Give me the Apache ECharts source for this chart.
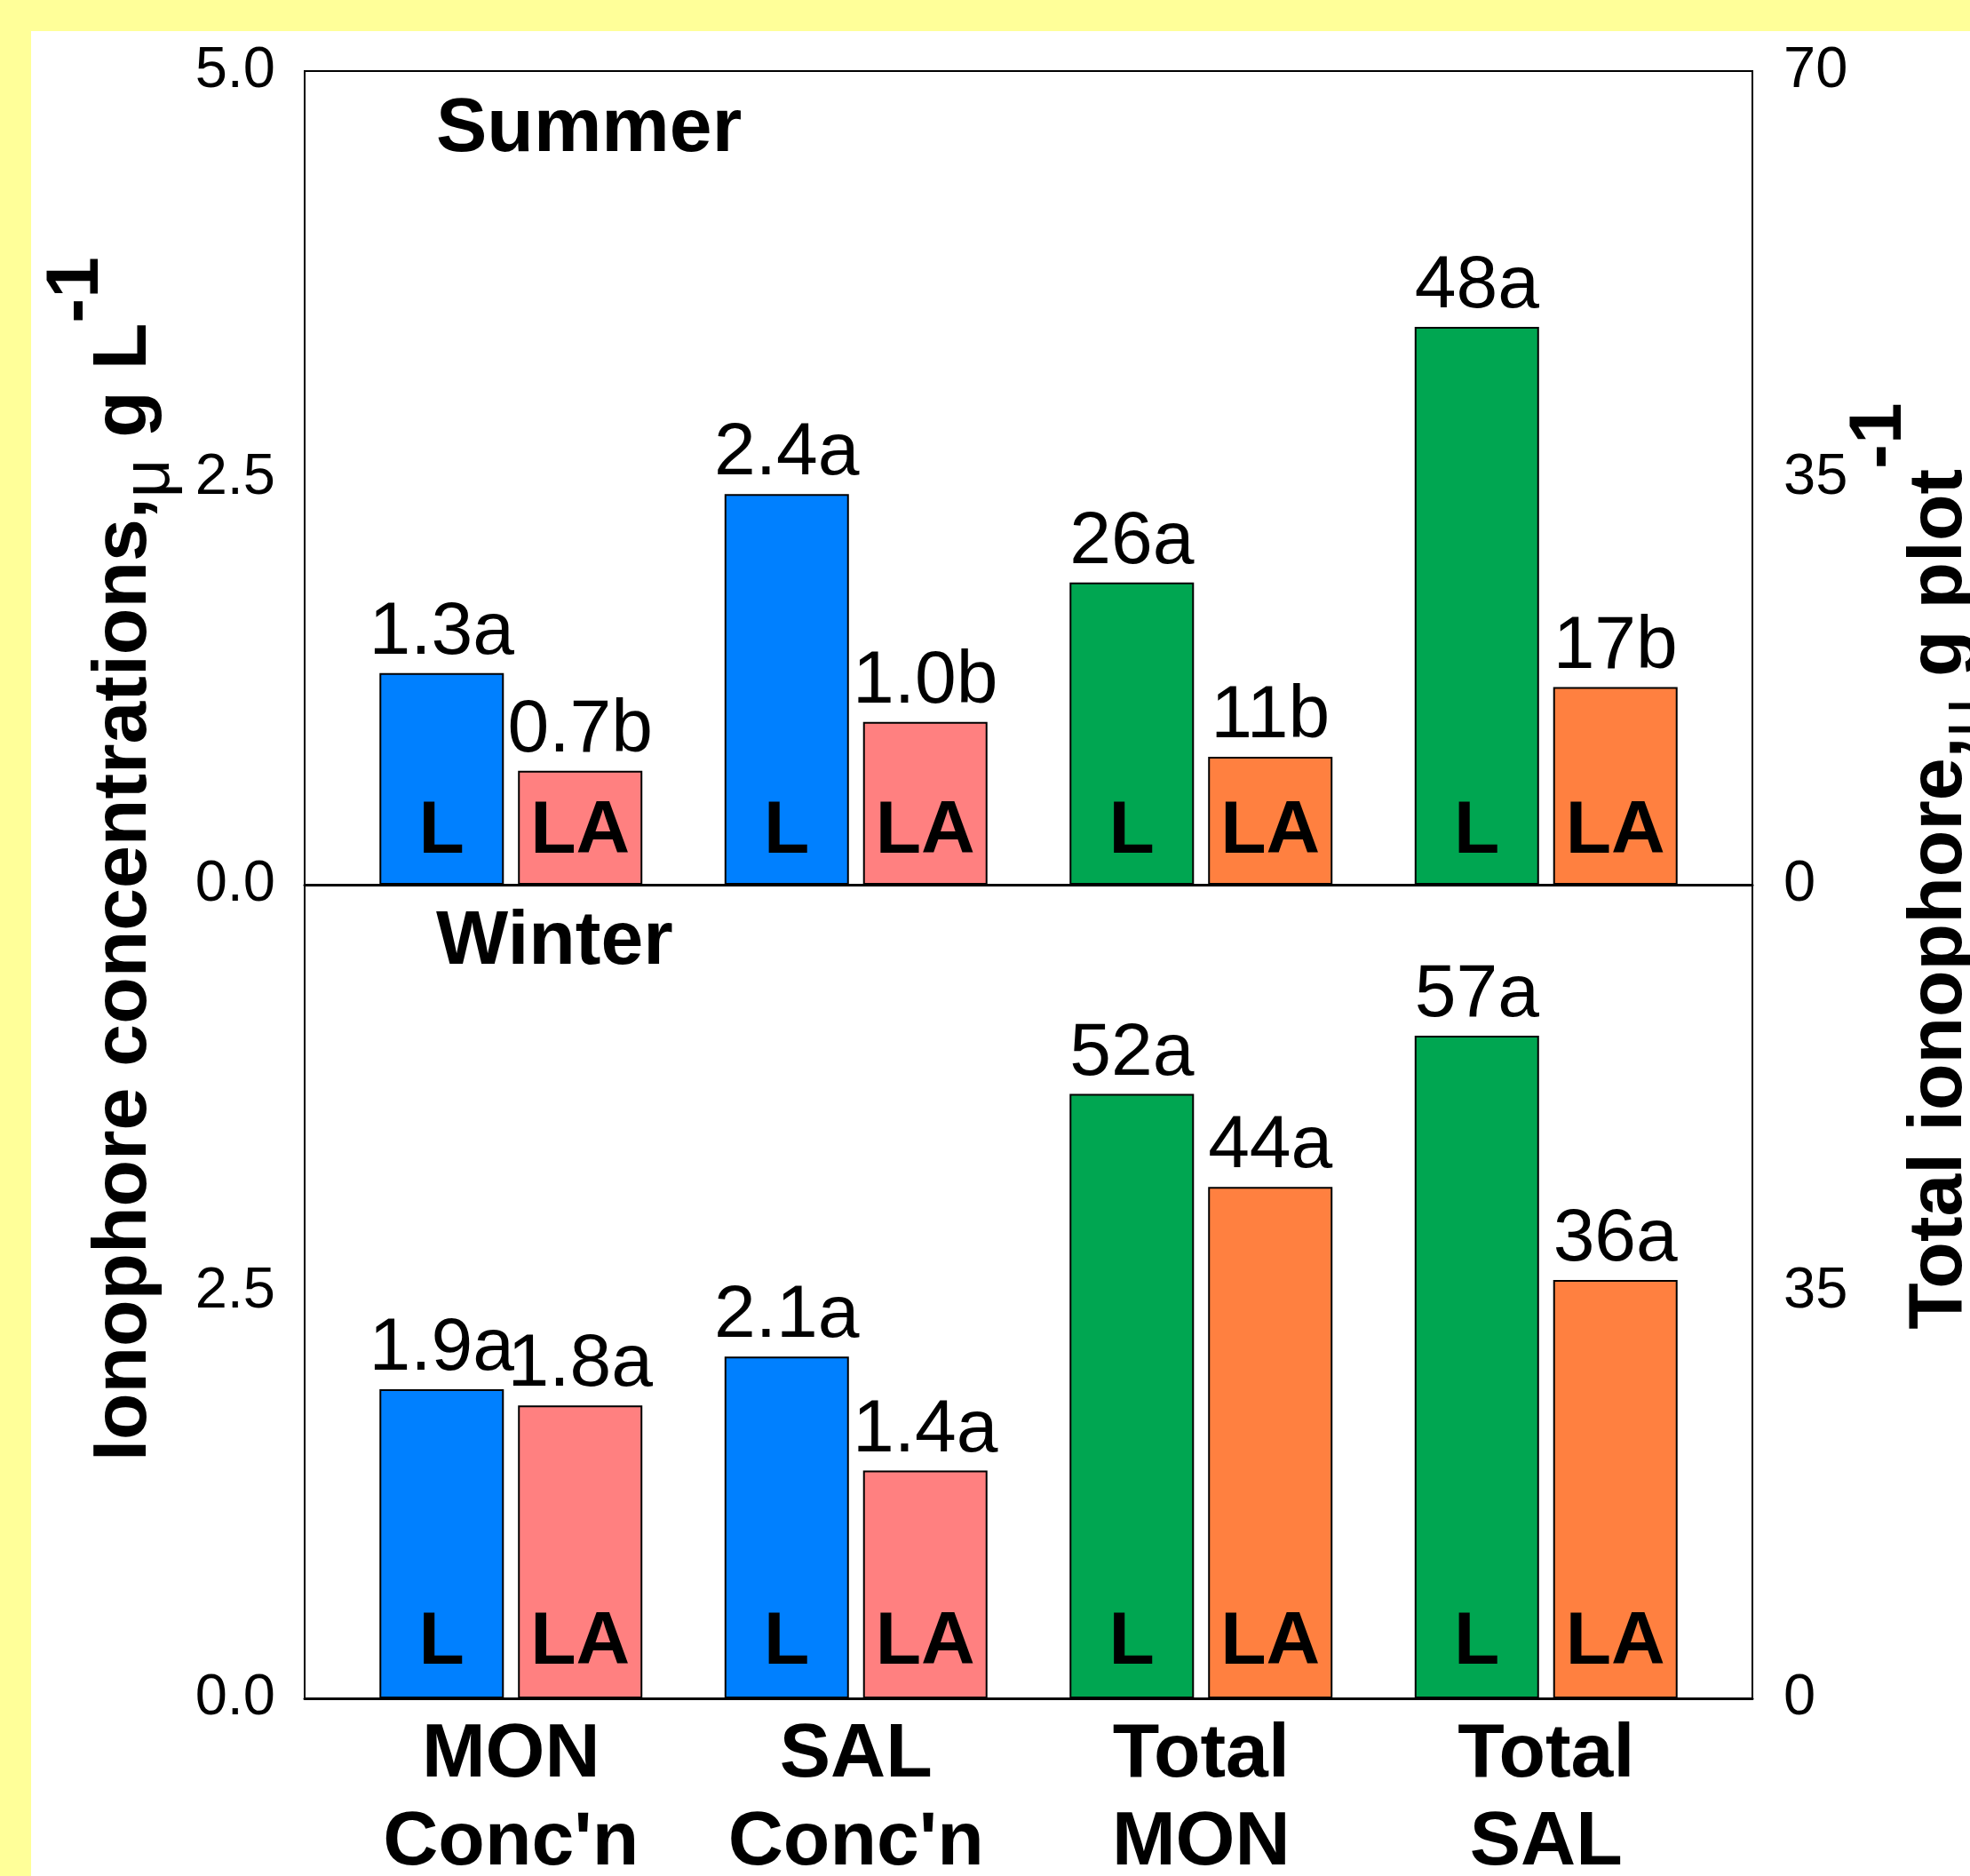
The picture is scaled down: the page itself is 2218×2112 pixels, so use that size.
<!DOCTYPE html>
<html><head><meta charset="utf-8">
<script src="https://cdn.jsdelivr.net/npm/echarts@6/dist/echarts.min.js"></script>
<style>
html,body{margin:0;padding:0;background:#FFFF99;width:2218px;height:2112px;overflow:hidden}
#chart{position:absolute;left:35px;top:35px;width:2183px;height:2077px;background:#fff}
</style></head><body><div id="chart"></div>
<script>
// ---- data ----
const categories = ["MON\nConc'n", "SAL\nConc'n", "Total\nMON", "Total\nSAL"];
const summerConcL  = [1.3, 2.4, '-', '-'];
const summerConcLA = [0.7, 1.0, '-', '-'];
const summerTotalL  = ['-', '-', 26, 48];
const summerTotalLA = ['-', '-', 11, 17];
const summerLabelsL  = ['1.3a', '2.4a', '26a', '48a'];
const summerLabelsLA = ['0.7b', '1.0b', '11b', '17b'];
const winterConcL  = [1.9, 2.1, '-', '-'];
const winterConcLA = [1.8, 1.4, '-', '-'];
const winterTotalL  = ['-', '-', 52, 57];
const winterTotalLA = ['-', '-', 44, 36];
const winterLabelsL  = ['1.9a', '2.1a', '52a', '57a'];
const winterLabelsLA = ['1.8a', '1.4a', '44a', '36a'];
const treatmentNames = ['L', 'LA'];
const panelNames = ['Summer', 'Winter'];
const concRange = [0, 5, 2.5];
const totalRange = [0, 70, 35];

// ---- styling / layout ----
const FONT = 'Liberation Sans';
const BLUE = '#0080FF', PINK = '#FF8080', GREEN = '#00A651', ORANGE = '#FF8040';
const boxL = 308, boxW = 1630, barL = 346, barW = 1554, panelH = 916;
const tops = [45, 961];

const panels = [
  {concL: summerConcL, concLA: summerConcLA, totL: summerTotalL, totLA: summerTotalLA, labL: summerLabelsL, labLA: summerLabelsLA},
  {concL: winterConcL, concLA: winterConcLA, totL: winterTotalL, totLA: winterTotalLA, labL: winterLabelsL, labLA: winterLabelsLA}
];

const grid = [], xAxis = [], yAxis = [], series = [];
tops.forEach(t => grid.push({left: boxL, top: t, width: boxW, height: panelH, show: true, borderColor: '#000', borderWidth: 2, backgroundColor: 'transparent', containLabel: false, outerBoundsMode: 'none'}));
tops.forEach(t => grid.push({left: barL, top: t, width: barW, height: panelH, containLabel: false, outerBoundsMode: 'none'}));

// box grid x axes (bottom lines)
[0, 1].forEach(g => xAxis.push({gridIndex: g, type: 'value', min: 0, max: 1, axisLine: {show: true, onZero: false, lineStyle: {color: '#000', width: 3}}, axisTick: {show: false}, axisLabel: {show: false}, splitLine: {show: false}}));
// bar grid category axes
[0, 1].forEach(p => {
  for (let k = 0; k < 4; k++) {
    const showLabels = (p === 1 && k === 0);
    xAxis.push({
      gridIndex: 2 + p, type: 'category', data: categories, show: showLabels,
      axisLine: {show: false}, axisTick: {show: false}, splitLine: {show: false},
      axisLabel: {show: showLabels, interval: 0, margin: 15, color: '#000', fontFamily: FONT, fontWeight: 'bold', fontSize: 86, lineHeight: 99}
    });
  }
});

const tickLabel = (margin) => ({color: '#000', fontFamily: FONT, fontSize: 65, margin: margin});
[0, 1].forEach(g => {
  yAxis.push({gridIndex: g, type: 'value', position: 'left', min: concRange[0], max: concRange[1], interval: concRange[2],
    axisLine: {show: false}, axisTick: {show: false}, splitLine: {show: false},
    axisLabel: Object.assign(tickLabel(33), {formatter: v => v.toFixed(1), showMaxLabel: g === 0})});
  yAxis.push({gridIndex: g, type: 'value', position: 'right', min: totalRange[0], max: totalRange[1], interval: totalRange[2],
    axisLine: {show: false}, axisTick: {show: false}, splitLine: {show: false},
    axisLabel: Object.assign(tickLabel(35), {formatter: v => String(v), showMaxLabel: g === 0})});
});
[0, 1].forEach(p => {
  yAxis.push({gridIndex: 2 + p, type: 'value', position: 'left', min: concRange[0], max: concRange[1], show: false, splitLine: {show: false}});
  yAxis.push({gridIndex: 2 + p, type: 'value', position: 'right', min: totalRange[0], max: totalRange[1], show: false, splitLine: {show: false}});
});

function mainBar(data, xi, yi, color, name, dist) {
  return {type: 'bar', data: data, xAxisIndex: xi, yAxisIndex: yi, barWidth: 140, barGap: '11.4%', silent: true,
    itemStyle: {color: color, borderColor: '#000', borderWidth: 2},
    label: {show: true, position: 'insideBottom', distance: dist, formatter: name, color: '#000', fontFamily: FONT, fontWeight: 'bold', fontSize: 84}};
}
function overlayBar(data, xi, yi, labels) {
  return {type: 'bar', data: data, xAxisIndex: xi, yAxisIndex: yi, barWidth: 140, barGap: '11.4%', silent: true,
    itemStyle: {color: 'rgba(0,0,0,0)', borderWidth: 0},
    label: {show: true, position: 'top', distance: 3, formatter: p => labels[p.dataIndex], color: '#000', fontFamily: FONT, fontSize: 84}};
}
panels.forEach((d, p) => {
  const xb = 2 + 4 * p, yl = 4 + 2 * p, yr = 5 + 2 * p;
  const dist = p === 0 ? 17 : 20;
  series.push(mainBar(d.concL, xb, yl, BLUE, treatmentNames[0], dist));
  series.push(mainBar(d.concLA, xb, yl, PINK, treatmentNames[1], dist));
  series.push(mainBar(d.totL, xb + 1, yr, GREEN, treatmentNames[0], dist));
  series.push(mainBar(d.totLA, xb + 1, yr, ORANGE, treatmentNames[1], dist));
  series.push(overlayBar(d.concL, xb + 2, yl, d.labL));
  series.push(overlayBar(d.concLA, xb + 2, yl, d.labLA));
  series.push(overlayBar(d.totL, xb + 3, yr, d.labL));
  series.push(overlayBar(d.totLA, xb + 3, yr, d.labLA));
});

function titleRich(lineH) {
  return {
    m: {fontFamily: FONT, fontWeight: 'bold', fontSize: 86, fill: '#000', color: '#000', lineHeight: lineH, verticalAlign: 'bottom', padding: [0, 0, 24, 0]},
    mu: {fontFamily: FONT, fontWeight: 'normal', fontSize: 76, fill: '#000', color: '#000', lineHeight: lineH, verticalAlign: 'bottom'},
    s: {fontFamily: FONT, fontWeight: 'bold', fontSize: 84, fill: '#000', color: '#000', lineHeight: lineH, verticalAlign: 'top'}
  };
}

const graphic = [
  {type: 'text', x: 456, y: 111, silent: true, style: {text: panelNames[0], font: 'bold 86px ' + FONT, fill: '#000', verticalAlign: 'middle', textVerticalAlign: 'middle'}},
  {type: 'text', x: 456, y: 1026, silent: true, style: {text: panelNames[1], font: 'bold 86px ' + FONT, fill: '#000', verticalAlign: 'middle', textVerticalAlign: 'middle'}},
  {type: 'text', x: 91, y: 932, rotation: Math.PI / 2, silent: true,
    style: {text: '{m|Ionophore concentrations,}{mu|\u03bc}{m| g L}{s|-1}', rich: titleRich(162),
      align: 'center', verticalAlign: 'middle', textAlign: 'center', textVerticalAlign: 'middle', fill: '#000'}},
  {type: 'text', x: 2128, y: 940, rotation: Math.PI / 2, silent: true,
    style: {text: '{m|Total ionophore,}{mu|\u03bc}{m| g plot}{s|-1}', rich: titleRich(177),
      align: 'center', verticalAlign: 'middle', textAlign: 'center', textVerticalAlign: 'middle', fill: '#000'}}
];

const chart = echarts.init(document.getElementById('chart'));
chart.setOption({
  backgroundColor: '#fff',
  animation: false,
  grid: grid, xAxis: xAxis, yAxis: yAxis, series: series, graphic: graphic
});
</script></body></html>
